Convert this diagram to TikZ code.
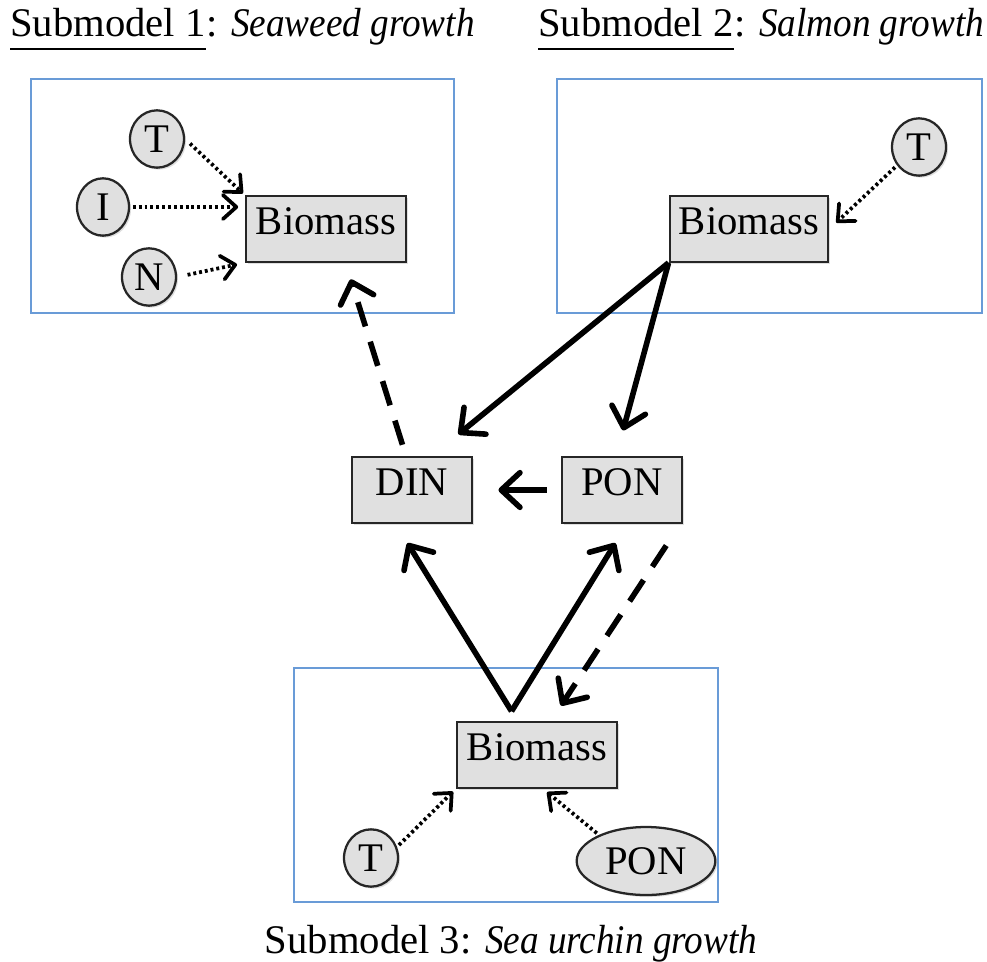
\documentclass[tikz,border=0pt]{standalone}
\usepackage{fontspec}
\usepackage{graphicx}
\setmainfont{Liberation Serif}
\usetikzlibrary{arrows.meta,shapes.geometric,shadows,calc}
\definecolor{boxblue}{RGB}{105,155,215}
\definecolor{nodegray}{RGB}{224,224,224}
\newcommand{\narrowit}[1]{\scalebox{0.915}[1]{\itshape #1}}
\begin{document}
\begin{tikzpicture}[x=0.75pt,y=-0.75pt,
  every node/.style={font=\fontsize{30.5}{36}\selectfont},
  mbox/.style={draw=boxblue, line width=1.3pt},
  var/.style={rectangle, draw=black!85, line width=1.7pt, fill=nodegray,
    text height=28.5pt, text depth=20.5pt, inner ysep=0pt, inner xsep=0pt,
    drop shadow={shadow xshift=1.5pt, shadow yshift=-1.5pt, opacity=0.25}},
  drv/.style={ellipse, draw=black!85, line width=1.7pt, fill=nodegray, inner sep=0pt,
    drop shadow={shadow xshift=1.5pt, shadow yshift=-1.5pt, opacity=0.25}},
  flow/.style={line width=4.2pt, -{Straight Barb[length=14pt,width=26pt,round]}},
  dflow/.style={flow, dash pattern=on 19pt off 12pt},
  infl/.style={line width=2.8pt, dash pattern=on 2.2pt off 2.2pt, -{Straight Barb[length=10pt,width=18pt,round]}},
  ttl/.style={inner sep=0pt, anchor=base west}
]
\useasboundingbox (0,0) rectangle (987,962);
% submodel boxes
\draw[mbox] (31,79) rectangle (454,313);
\draw[mbox] (557,79) rectangle (982,313);
\draw[mbox] (294,668) rectangle (718,902);
% titles
\node[ttl] (s1) at (10,37) {Submodel 1};
\node[ttl] (s1b) at (s1.base east) {: \narrowit{Seaweed growth}};
\draw[line width=1.5pt] ([yshift=-9pt]s1.base west) -- ([yshift=-9pt]s1.base east);
\node[ttl] (s2) at (538,37) {Submodel 2};
\node[ttl] (s2b) at (s2.base east) {: \narrowit{Salmon growth}};
\draw[line width=1.5pt] ([yshift=-9pt]s2.base west) -- ([yshift=-9pt]s2.base east);
\node[inner sep=0pt, anchor=base] (s3) at (511,953) {Submodel 3: \narrowit{Sea urchin growth}};
% submodel 1
\node[var, minimum width=120pt] (b1) at (326,229) {Biomass};
\node[drv, minimum width=40.5pt, minimum height=43pt] (t1) at (157,139) {T};
\node[drv, minimum width=39pt, minimum height=43pt] (i1) at (103,207) {I};
\node[drv, minimum width=40.5pt, minimum height=43pt] (n1) at (149,277) {N};
% submodel 2
\node[var, minimum width=119pt] (b2) at (749,229) {Biomass};
\node[drv, minimum width=40.5pt, minimum height=43pt] (t2) at (919,147) {T};
% nutrients
\node[var, minimum width=90pt] (din) at (412,490) {DIN};
\node[var, minimum width=90pt] (pon) at (622,490) {PON};
% submodel 3
\node[var, minimum width=120pt] (b3) at (537,755) {Biomass};
\node[drv, minimum width=40.5pt, minimum height=43pt] (t3) at (371,858) {T};
\node[drv, minimum width=104pt, minimum height=51pt] (pe) at (646,861) {PON};
\coordinate (apex) at ([yshift=7.5pt]b3.127.6);
% influences
\draw[infl, shorten <=5pt, shorten >=2pt] (t1.east) -- (b1.north west);
\draw[infl, shorten <=2pt, shorten >=5pt] (i1.east) -- (i1.east -| b1.west);
\draw[infl, shorten <=8pt, shorten >=6pt] (n1.east) -- (b1.south west);
\draw[infl, shorten <=2pt, shorten >=7pt] (t2.220) -- (b2.east);
\draw[infl, shorten <=2pt, shorten >=3pt] (t3.23) -- (b3.south west);
\draw[infl, shorten <=2pt, shorten >=4pt] (pe.151) -- (b3.-80);
% flows
\draw[flow, shorten >=26pt] (b2.south west) -- (din.60);
\draw[flow, shorten >=20pt] (b2.south west) -- (pon.100);
\draw[flow, shorten <=10.5pt, shorten >=19pt] (pon.west) -- (din.east);
\draw[dflow, shorten <=9pt, shorten >=13pt] (din.100) -- (b1.-60);
\draw[flow, shorten >=17pt] (apex) -- (din.-116);
\draw[flow, shorten >=17pt] (apex) -- (pon.-81);
\draw[dflow, shorten <=19.5pt, shorten >=14pt] (pon.-30) -- (b3.68);
\end{tikzpicture}
\end{document}
